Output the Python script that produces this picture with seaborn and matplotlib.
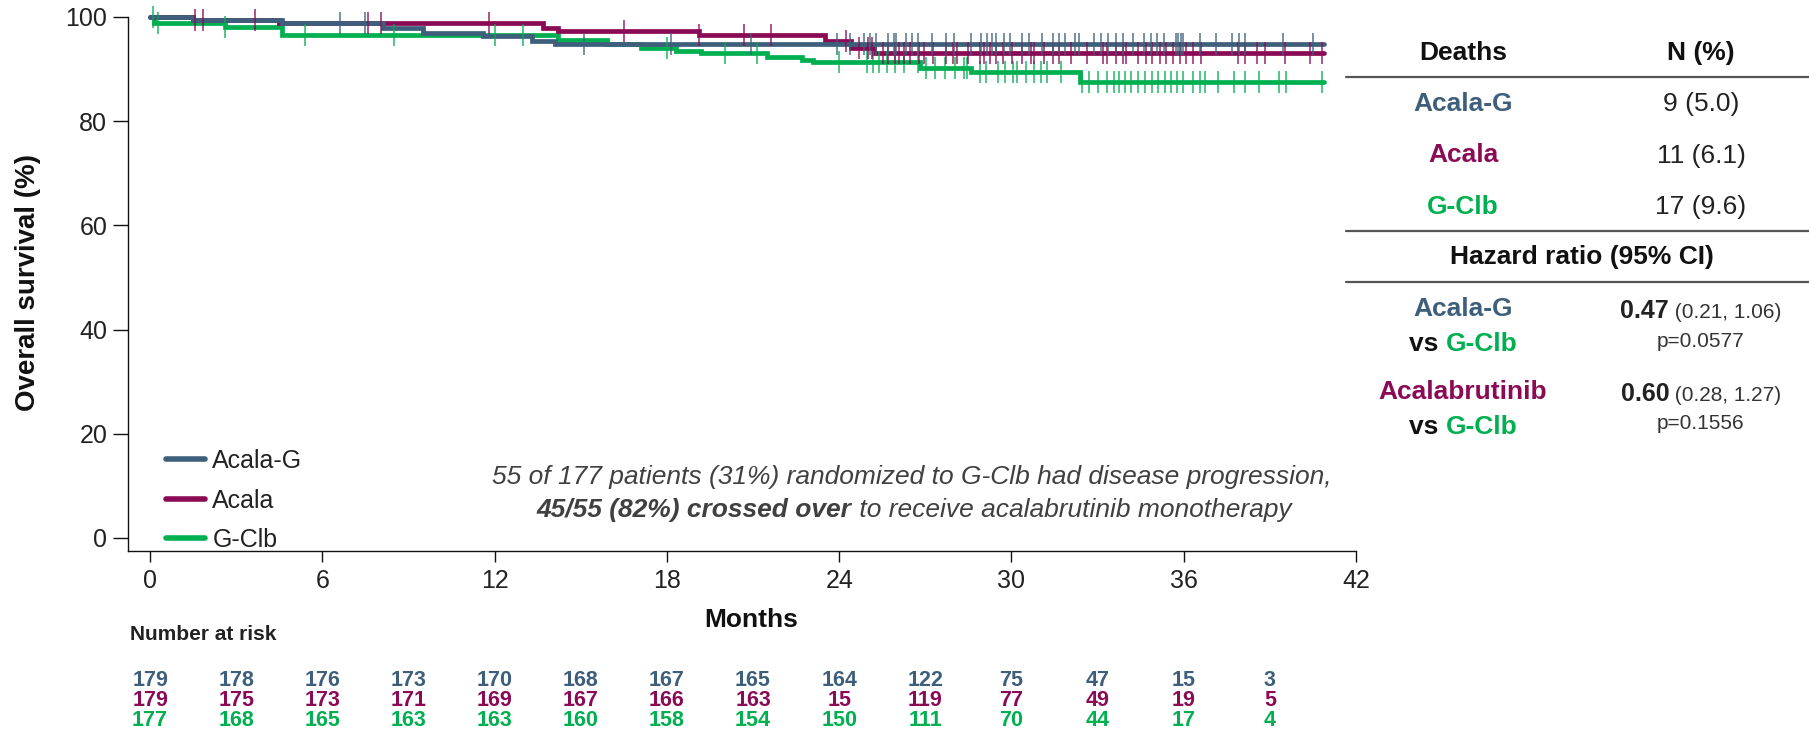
import numpy as np
import pandas as pd
import matplotlib
matplotlib.use("Agg")
import matplotlib.pyplot as plt
import matplotlib.transforms as mtransforms
from matplotlib.lines import Line2D
import seaborn as sns

# ---------------- data ----------------
arms = ["Acala-G", "Acala", "G-Clb"]
arm_colors = ["#3E5F7B", "#8A0A55", "#00B050"]

acalag_times = [0, 1.5, 4.6, 8.1, 9.5, 11.6, 13.3, 14.1]
acalag_surv = [100, 99.44, 98.8, 97.8, 96.9, 96.4, 95.45, 94.8]
acala_times = [0, 1.5, 4.5, 13.7, 14.2, 19.1, 23.5, 24.4, 25.2]
acala_surv = [100, 99.44, 98.85, 97.8, 97.25, 96.5, 95.4, 94.1, 93.1]
gclb_times = [0, 0.15, 2.6, 4.6, 14.2, 15.9, 17.1, 18.3, 19.2, 21.5, 22.7, 23.1, 26.8, 28.6, 32.4]
gclb_surv = [100, 98.9, 98.1, 96.5, 95.6, 94.9, 94.0, 93.5, 93.0, 92.4, 91.7, 91.3, 90.3, 89.5, 87.6]
last_followup = [40.9, 40.9, 40.9]

acalag_censor = [6.6, 7.5, 15.1, 18.14, 20.94, 23.93, 24.37, 24.88, 25.07, 25.27, 25.69, 25.90, 25.97,
                 26.32, 26.52, 26.74, 27.22, 27.72, 28.00, 28.60, 28.93, 29.15, 29.32, 29.46, 29.74,
                 29.94, 30.36, 30.60, 31.07, 31.45, 31.66, 31.87, 32.23, 32.36, 32.86, 33.12, 33.35,
                 33.63, 33.90, 34.23, 34.62, 34.85, 35.08, 35.32, 35.74, 35.81, 35.89, 35.97, 36.56,
                 37.11, 37.68, 37.92, 38.15, 39.47, 40.49]
acala_censor = [1.55, 1.85, 3.66, 7.6, 8.05, 11.8, 16.5, 19.12, 20.68, 21.61, 24.24, 24.68, 25.02,
                25.16, 25.54, 25.69, 25.93, 26.10, 26.24, 26.47, 26.78, 26.94, 27.25, 27.72, 27.98,
                28.11, 28.50, 28.89, 29.04, 29.27, 29.46, 29.71, 30.02, 30.36, 30.68, 30.80, 31.14,
                31.45, 31.64, 32.08, 32.62, 33.20, 33.32, 33.63, 33.87, 33.99, 34.41, 34.69, 34.88,
                35.19, 35.39, 35.63, 35.86, 36.09, 36.33, 36.59, 37.89, 38.15, 38.54, 38.82, 39.52,
                40.41, 40.80]
gclb_censor = [0.09, 0.26, 2.6, 5.4, 8.5, 12.0, 13.0, 17.99, 20.01, 21.13, 23.98, 24.96, 25.18,
               25.40, 25.65, 25.96, 26.27, 26.74, 27.02, 27.33, 27.67, 28.03, 28.34, 28.45, 28.89,
               29.12, 29.54, 29.77, 30.05, 30.21, 30.52, 30.78, 31.02, 31.25, 31.72, 32.47, 32.70,
               33.01, 33.32, 33.56, 33.74, 33.95, 34.18, 34.41, 34.65, 34.88, 35.11, 35.35, 35.55,
               35.78, 35.97, 36.33, 36.55, 36.75, 37.18, 37.76, 38.15, 38.62, 39.32, 39.55, 40.80]

risk_months = [0, 3, 6, 9, 12, 15, 18, 21, 24, 27, 30, 33, 36, 39]
risk_acalag = [179, 178, 176, 173, 170, 168, 167, 165, 164, 122, 75, 47, 15, 3]
risk_acala = [179, 175, 173, 171, 169, 167, 166, 163, 15, 119, 77, 49, 19, 5]
risk_gclb = [177, 168, 165, 163, 163, 160, 158, 154, 150, 111, 70, 44, 17, 4]

x_ticks = [0, 6, 12, 18, 24, 30, 36, 42]
y_ticks = [0, 20, 40, 60, 80, 100]

deaths_n = ["9 (5.0)", "11 (6.1)", "17 (9.6)"]
hr_labels = [("Acala-G", 0), ("Acalabrutinib", 1)]
hr_values = ["0.47", "0.60"]
hr_ci = [" (0.21, 1.06)", " (0.28, 1.27)"]
hr_p = ["p=0.0577", "p=0.1556"]

# ---------------- figure ----------------
sns.set_style("ticks")
plt.rcParams["font.family"] = ["Liberation Sans", "DejaVu Sans"]

W, H = 1809, 739
fig = plt.figure(figsize=(W / 100, H / 100), dpi=100)


def fx(px):
    return px / W


def fy(py):
    return 1 - py / H


ax = fig.add_axes([fx(128), fy(551), fx(1356) - fx(128), fy(17) - fy(551)])

series = [
    (acalag_times, acalag_surv, acalag_censor),
    (acala_times, acala_surv, acala_censor),
    (gclb_times, gclb_surv, gclb_censor),
]

handles = {}
draw_order = [2, 1, 0]
for i in draw_order:
    t, s, cens = series[i]
    df = pd.DataFrame({"t": list(t) + [last_followup[i]], "s": list(s) + [s[-1]]})
    sns.lineplot(data=df, x="t", y="s", drawstyle="steps-post", color=arm_colors[i],
                 linewidth=3.4, estimator=None, sort=False, ax=ax, clip_on=False,
                 solid_joinstyle="miter")
    tt = np.asarray(t)
    idx = np.searchsorted(tt, np.asarray(cens), side="right") - 1
    cdf = pd.DataFrame({"t": cens, "s": np.asarray(s)[idx]})
    sns.scatterplot(data=cdf, x="t", y="s", marker="|", s=260, linewidth=1.3,
                    color=arm_colors[i], alpha=0.75, ax=ax, clip_on=False, zorder=3)
    handles[i] = Line2D([0], [0], color=arm_colors[i], lw=4)

ax.set_xlim(-0.77, 42)
ax.set_ylim(-2.5, 100)
ax.set_xticks(x_ticks)
ax.set_yticks(y_ticks)
ax.set_xlabel("")
ax.set_ylabel("")
for sp in ["top", "right"]:
    ax.spines[sp].set_visible(False)
for sp in ["left", "bottom"]:
    ax.spines[sp].set_linewidth(1.0)
    ax.spines[sp].set_color("#111111")
ax.spines["left"].set_bounds(-2.5, 100)
ax.tick_params(axis="y", length=11, width=1.0, pad=4, labelsize=18, colors="#111111",
               labelcolor="#222222")
ax.tick_params(axis="x", length=8, width=1.0, pad=5, labelsize=18, colors="#111111",
               labelcolor="#222222")

leg = ax.legend([handles[0], handles[1], handles[2]], arms, loc="lower left",
                bbox_to_anchor=(fx(166), fy(552)), bbox_transform=fig.transFigure,
                frameon=False, fontsize=18, handlelength=1.55, handletextpad=0.3,
                labelspacing=0.62, borderpad=0, borderaxespad=0)
for txt in leg.get_texts():
    txt.set_color("#222222")

# axis titles
fig.text(fx(28), fy(282), "Overall survival (%)", rotation=90, ha="center", va="center",
         fontsize=20, fontweight="bold", color="#111111")
fig.text(fx(751), fy(620), "Months", ha="center", va="center", fontsize=19,
         fontweight="bold", color="#111111")

renderer = fig.canvas.get_renderer()


def mixed(parts, cx, base_py):
    """parts: list of (text, kwargs); centred on cx, on baseline base_py (pixels)."""
    objs = []
    for text, kw in parts:
        objs.append(fig.text(0, fy(base_py), text, ha="left", va="baseline", **kw))
    widths = [o.get_window_extent(renderer=renderer).width for o in objs]
    x = cx - sum(widths) / 2
    for o, w in zip(objs, widths):
        o.set_x(fx(x))
        x += w
    return objs


# annotation
note_kw = dict(fontsize=19, style="italic", color="#404040")
fig.text(fx(912), fy(477), "55 of 177 patients (31%) randomized to G-Clb had disease progression,",
         ha="center", va="center", **note_kw)
mixed([("45/55 (82%) crossed over", dict(fontweight="bold", **note_kw)),
       (" to receive acalabrutinib monotherapy", note_kw)], 914, 517)

# number at risk
fig.text(fx(130), fy(635), "Number at risk", ha="left", va="center", fontsize=15,
         fontweight="bold", color="#222222")
blend = mtransforms.blended_transform_factory(ax.transData, fig.transFigure)
for row, (vals, col) in enumerate(zip([risk_acalag, risk_acala, risk_gclb], arm_colors)):
    for m, v in zip(risk_months, vals):
        fig.text(m, fy(681 + 20 * row), str(v), transform=blend, ha="center", va="center",
                 fontsize=15.5, fontweight="bold", color=col)

# right-hand table
for py in [77, 231, 282]:
    fig.add_artist(Line2D([fx(1346), 1.0], [fy(py), fy(py)], transform=fig.transFigure,
                          color="#555555", lw=1.6))
c1, c2 = 1463, 1701
fig.text(fx(c1), fy(53), "Deaths", ha="center", va="center", fontsize=19, fontweight="bold",
         color="#111111")
fig.text(fx(c2), fy(53), "N (%)", ha="center", va="center", fontsize=19, fontweight="bold",
         color="#111111")
for k, (arm, col) in enumerate(zip(arms, arm_colors)):
    yy = 104 + 51.5 * k
    fig.text(fx(c1), fy(yy), arm, ha="center", va="center", fontsize=19, fontweight="bold",
             color=col)
    fig.text(fx(c2), fy(yy), deaths_n[k], ha="center", va="center", fontsize=19,
             color="#222222")
fig.text(fx(1582), fy(257), "Hazard ratio (95% CI)", ha="center", va="center", fontsize=19,
         fontweight="bold", color="#111111")

for k, (lab, ci_idx) in enumerate(hr_labels):
    y1 = 309 + 83 * k
    y2 = 342 + 82 * k
    fig.text(fx(c1), fy(y1), lab, ha="center", va="center", fontsize=19, fontweight="bold",
             color=arm_colors[ci_idx])
    mixed([("vs ", dict(fontsize=19, fontweight="bold", color="#111111")),
           ("G-Clb", dict(fontsize=19, fontweight="bold", color=arm_colors[2]))], c1, y2 + 9.5)
    mixed([(hr_values[k], dict(fontsize=18, fontweight="bold", color="#222222")),
           (hr_ci[k], dict(fontsize=15, color="#333333"))], c2, y1 + 9)
    fig.text(fx(c2), fy(y2), hr_p[k], ha="center", va="center", fontsize=15, color="#333333")

fig.savefig("out.png", dpi=100)
